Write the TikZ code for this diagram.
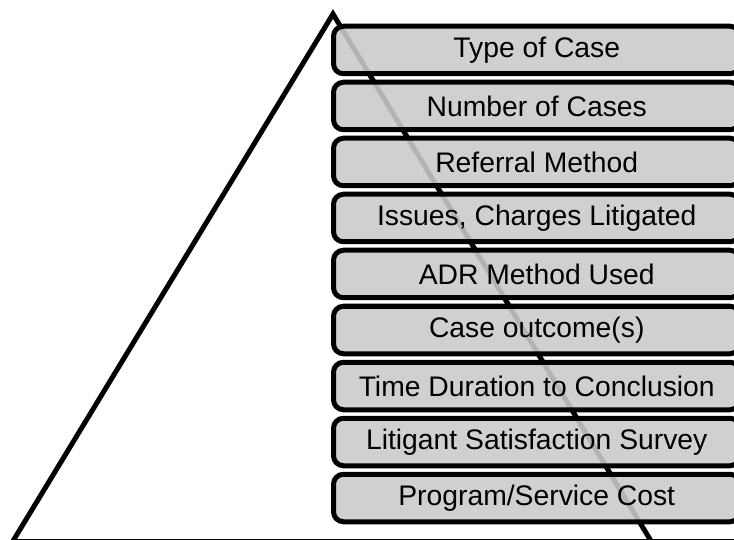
\documentclass[tikz,border=0pt]{standalone}
\usepackage{fontspec}
\setmainfont{Liberation Sans}
\definecolor{boxgray}{RGB}{202,202,202}
\tikzset{
  edge/.style={draw=black, line width=5pt, line join=miter},
  tier/.style={draw=black, line width=5pt, fill=boxgray, fill opacity=0.89,
    draw opacity=1, text opacity=1, rounded corners=10pt,
    minimum width=406.5pt, minimum height=47.5pt, inner sep=0pt,
    font=\fontsize{28.3}{32}\selectfont}
}
\begin{document}
\begin{tikzpicture}[x=1pt,y=-1pt]
  \useasboundingbox (0,0) rectangle (734,540);
  \clip (0,0) rectangle (734,540);
  % pyramid outline
  \coordinate (apex) at (333,14);
  \coordinate (bl) at (13,541);
  \coordinate (br) at (651,541);
  \coordinate (bend) at (760,541);
  \draw[edge] (bl) -- (apex) -- (br);
  \draw[edge] (bl) -- (bend);
  % stacked tiers
  \foreach \t [count=\i from 0] in {Type of Case, Number of Cases, Referral Method,
      {Issues, Charges Litigated}, ADR Method Used, Case outcome(s),
      Time Duration to Conclusion, Litigant Satisfaction Survey,
      Program/Service Cost}
    \node[tier] (tier\i) at (536.75,{50+56*\i}) {\t};
\end{tikzpicture}
\end{document}
